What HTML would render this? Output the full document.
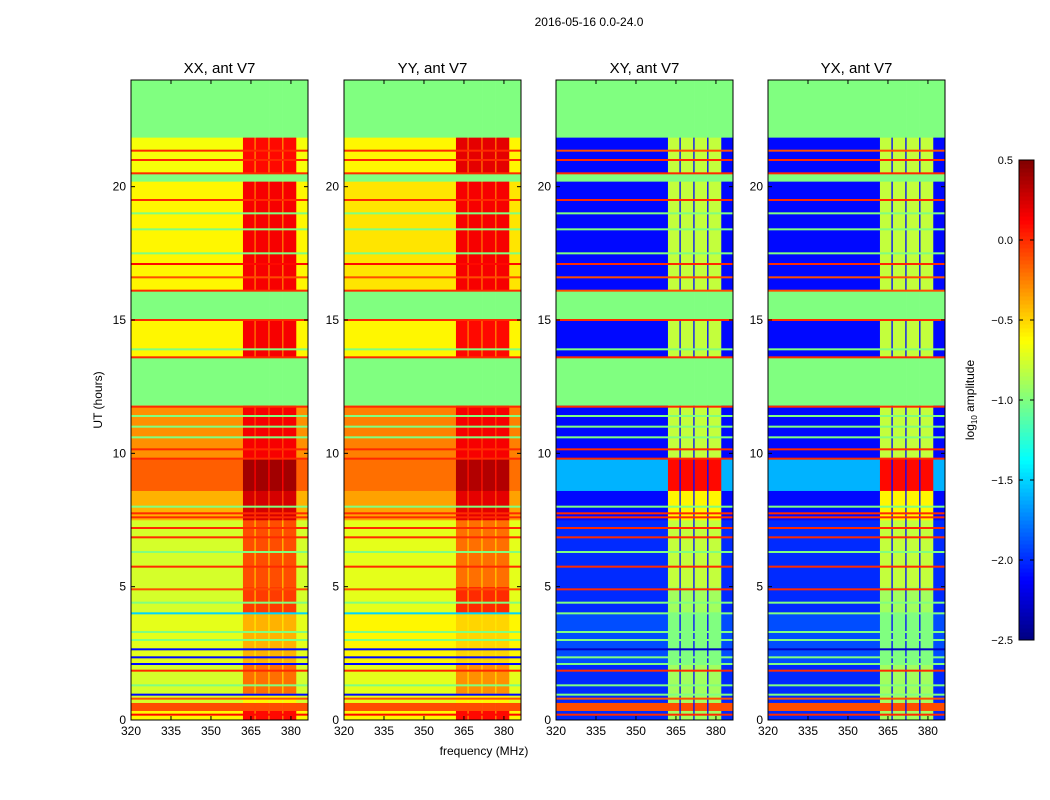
<!DOCTYPE html>
<html><head><meta charset="utf-8">
<style>
html,body{margin:0;padding:0;background:#fff;}
svg{display:block;font-family:"Liberation Sans",sans-serif;}
</style></head>
<body>
<svg id="chart" width="1050" height="800" viewBox="0 0 1050 800">
<rect width="1050" height="800" fill="#fff"/>
<text x="589" y="26" font-size="12" text-anchor="middle">2016-05-16 0.0-24.0</text>
<text x="484" y="755" font-size="12" text-anchor="middle">frequency (MHz)</text>
<text transform="translate(102,400) rotate(-90)" font-size="12" text-anchor="middle">UT (hours)</text>
<text transform="translate(974,400) rotate(-90)" font-size="12" text-anchor="middle">log<tspan font-size="8" dy="3">10</tspan><tspan dy="-3"> amplitude</tspan></text>
<g id="panels"></g>
<g id="cbar"></g>
</svg>
<script>
// ---- data ----
const panelTitles = ["XX, ant V7","YY, ant V7","XY, ant V7","YX, ant V7"];
const xTicks = [320,335,350,365,380];
const yTicks = [0,5,10,15,20];
const cbarTicks = [0.5,0.0,-0.5,-1.0,-1.5,-2.0,-2.5];
// time segments (hours)
const segStart = [0,0.35,0.65,1.0,2.1,4.0,5.0,7.5,8.6,9.8,11.8,13.6,15.0,16.1,20.2,20.5,21.85];
const segEnd   = [0.35,0.65,1.0,2.1,4.0,5.0,7.5,8.6,9.8,11.8,13.6,15.0,16.1,20.2,20.5,21.85,24];
const flagged  = [0,0,0,0,0,0,0,0,0,0,1,0,1,0,1,0,1];
const xxBase = [-0.6,-0.1,-0.75,-0.75,-0.7,-0.75,-0.75,-0.4,-0.15,-0.3,-1,-0.6,-1,-0.6,-1,-0.65,-1];
const xxBand = [0.1,-0.1,-0.6,-0.2,-0.4,-0.05,-0.1,0.25,0.4,0.15,-1,0.15,-1,0.15,-1,0.1,-1];
const yyBase = [-0.6,-0.1,-0.7,-0.7,-0.6,-0.7,-0.7,-0.35,-0.2,-0.25,-1,-0.6,-1,-0.55,-1,-0.6,-1];
const yyBand = [0.1,-0.1,-0.6,-0.3,-0.5,0.0,-0.2,0.2,0.35,0.15,-1,0.1,-1,0.15,-1,0.2,-1];
const xyBase = [-2.0,-0.1,-2.0,-2.0,-1.9,-2.0,-2.0,-2.1,-1.6,-2.1,-1,-2.1,-1,-2.1,-1,-2.1,-1];
const xyBand = [-0.9,-0.1,-0.9,-0.9,-1.0,-0.9,-0.8,-0.6,0.1,-0.8,-1,-0.8,-1,-0.8,-1,-0.8,-1];
const yxBase = xyBase.slice();
const yxBand = xyBand.slice();
// frequency columns (MHz)
const colStart = [320,362,366.3,366.8,371.5,372,376.7,377.2,382];
const colEnd   = [362,366.3,366.8,371.5,372,376.7,377.2,382,386.4];
const colKind  = ["base","band","gap","band","gap","band","gap","band","base"];
// thin horizontal lines: hour, value in XX/YY panels, value in XY/YX panels
const lineHour = [0.2,0.8,0.95,1.3,1.85,2.1,2.35,2.65,3.0,3.3,4.0,4.4,4.9,5.75,6.3,6.85,7.2,7.6,7.75,8.0,9.8,10.15,10.6,11.0,11.4,11.75,13.6,13.9,15.0,16.1,16.6,17.1,17.5,18.4,19.0,19.5,20.5,21.0,21.35];
const lineParallel = [0.1,-0.1,-2.1,-1.0,0.0,-2.1,-2.1,-2.1,-1.0,-1.0,-1.5,-1.0,-0.1,0.0,-1.0,0.0,0.0,0.0,0.0,-1.0,0.0,0.0,-1.0,-1.0,-1.0,0.0,0.0,-1.0,0.0,0.0,-0.1,0.1,-1.0,-1.0,-1.0,0.0,0.0,0.0,0.0];
const lineCross    = [0.0,-0.1,-1.0,-1.0,0.0,-1.0,-1.0,-2.3,-1.0,-1.0,-1.0,-1.0,0.0,0.0,-1.0,0.0,0.0,0.0,0.0,-1.0,0.0,0.0,-1.0,-1.0,-1.0,0.0,0.0,-1.0,0.0,-0.1,-0.1,0.0,-1.0,-1.0,-1.0,0.0,0.0,0.0,-0.1];

// ---- layout ----
const panelX = [131,344,556,768], PW=177, PT=80, PB=720;
const fMin=320, fMax=386.4, vMin=-2.5, vMax=0.5;
function xs(i,f){return panelX[i]+(f-fMin)*PW/(fMax-fMin);}
function ys(h){return PB-(h/24)*(PB-PT);}
function jet(v){
  let t=(v-vMin)/(vMax-vMin); t=Math.max(0,Math.min(1,t));
  const c=x=>Math.round(255*Math.max(0,Math.min(1,x)));
  const r=c(1.5-Math.abs(4*t-3)), g=c(1.5-Math.abs(4*t-2)), b=c(1.5-Math.abs(4*t-1));
  return `rgb(${r},${g},${b})`;
}
const NS="http://www.w3.org/2000/svg";
function mk(tag,attrs,parent){const e=document.createElementNS(NS,tag);for(const k in attrs)e.setAttribute(k,attrs[k]);parent.appendChild(e);return e;}
const panels=document.getElementById('panels');
const bases=[xxBase,yyBase,xyBase,yxBase], bands=[xxBand,yyBand,xyBand,yxBand];

for(let p=0;p<4;p++){
  const g=mk('g',{},panels);
  
  
  const cross=p>=2;
  for(let s=0;s<segStart.length;s++){
    for(let c=0;c<colStart.length;c++){
      let v;
      if(flagged[s]) v=-1;
      else if(colKind[c]==="band") v=bands[p][s];
      else if(colKind[c]==="gap") v=cross?-2.1:(bases[p][s]+bands[p][s])/2;
      else v=bases[p][s];
      const y0=ys(segEnd[s]), y1=ys(segStart[s]);
      const x0=xs(p,colStart[c]), x1=xs(p,colEnd[c]);
      const r=mk('rect',{x:x0.toFixed(2),y:y0.toFixed(2),width:(x1-x0+0.3).toFixed(2),height:(y1-y0+0.3).toFixed(2),fill:jet(v)},g);
      
      
    }
  }
  for(let l=0;l<lineHour.length;l++){
    const v=cross?lineCross[l]:lineParallel[l];
    const r=mk('rect',{x:panelX[p],y:(ys(lineHour[l])-1).toFixed(2),width:PW,height:2,fill:jet(v)},g);
    
    
  }
  const fr=mk('rect',{x:panelX[p],y:PT,width:PW,height:PB-PT,fill:'none',stroke:'#000','stroke-width':1},g);
  
  
  const t=mk('text',{x:panelX[p]+PW/2,y:73,'font-size':15,'text-anchor':'middle'},g);
  t.textContent=panelTitles[p];
  
  
  xTicks.forEach(f=>{
    const x=xs(p,f);
    mk('line',{x1:x,x2:x,y1:PB,y2:PB-4,stroke:'#000'},g);
    mk('line',{x1:x,x2:x,y1:PT,y2:PT+4,stroke:'#000'},g);
    const tx=mk('text',{x:x,y:PB+15,'font-size':12,'text-anchor':'middle'},g);
    tx.textContent=f;
    
    
  });
  yTicks.forEach(h=>{
    const y=ys(h);
    mk('line',{x1:panelX[p],x2:panelX[p]+4,y1:y,y2:y,stroke:'#000'},g);
    mk('line',{x1:panelX[p]+PW,x2:panelX[p]+PW-4,y1:y,y2:y,stroke:'#000'},g);
    const ty=mk('text',{x:panelX[p]-5,y:y+4,'font-size':12,'text-anchor':'end'},g);
    ty.textContent=h;
    
    
  });
}
// colorbar
const cb=document.getElementById('cbar');
const CBX=1019,CBW=15,CBT=160,CBB=640;
const cbs=v=>CBB-(v-vMin)/(vMax-vMin)*(CBB-CBT);
for(let i=0;i<120;i++){
  const v=vMin+(i+0.5)*(vMax-vMin)/120;
  const y1=cbs(vMin+i*(vMax-vMin)/120), y0=cbs(vMin+(i+1)*(vMax-vMin)/120);
  const r=mk('rect',{x:CBX,y:y0.toFixed(2),width:CBW,height:(y1-y0+0.5).toFixed(2),fill:jet(v)},cb);
  
  
}
const cf=mk('rect',{x:CBX,y:CBT,width:CBW,height:CBB-CBT,fill:'none',stroke:'#000','stroke-width':1},cb);


cbarTicks.forEach(v=>{
  const y=cbs(v);
  mk('line',{x1:CBX,x2:CBX+4,y1:y,y2:y,stroke:'#000'},cb);
  mk('line',{x1:CBX+CBW,x2:CBX+CBW-4,y1:y,y2:y,stroke:'#000'},cb);
  const t=mk('text',{x:1013,y:y+4,'font-size':11,'text-anchor':'end'},cb);
  t.textContent=(v<0?'\u2212':'')+Math.abs(v).toFixed(1);
  
  
});
</script>
</body></html>
